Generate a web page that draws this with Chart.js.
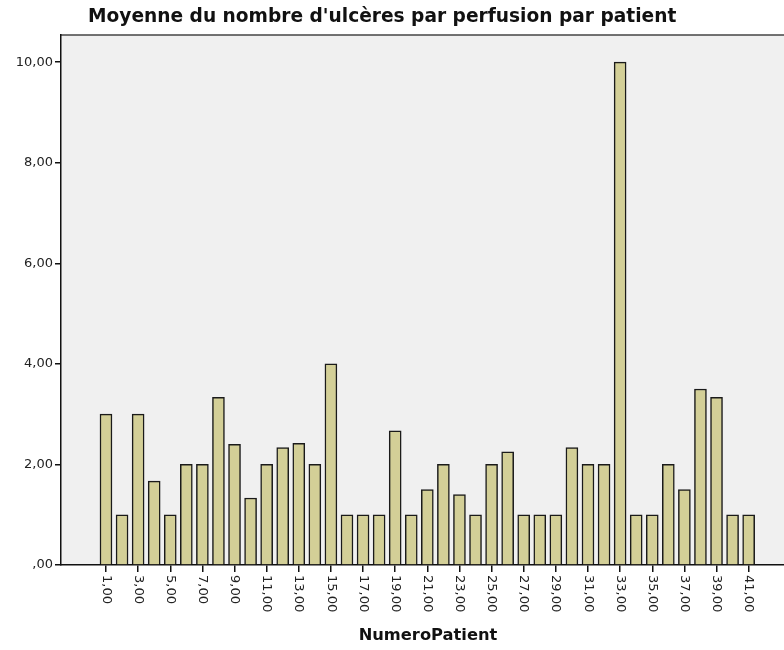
<!DOCTYPE html>
<html>
<head>
<meta charset="utf-8">
<script src="https://cdn.jsdelivr.net/npm/chart.js@4/dist/chart.umd.min.js"></script>
<style>
html,body{margin:0;padding:0;background:#ffffff;overflow:hidden;}
canvas{display:block;}
</style>
</head>
<body>
<canvas id="c" width="784" height="650"></canvas>
<script>
const chartTitle = "Moyenne du nombre d'ulcères par perfusion par patient";
const xAxisTitle = "NumeroPatient";
const patients = [1,2,3,4,5,6,7,8,9,10,11,12,13,14,15,16,17,18,19,20,21,22,23,24,25,26,27,28,29,30,31,32,33,34,35,36,37,38,39,40,41];
const meanUlcers = [3,1,3,1.667,1,2,2,3.333,2.4,1.333,2,2.333,2.42,2,4,1,1,1,2.667,1,1.5,2,1.4,1,2,2.25,1,1,1,2.333,2,2,10,1,1,2,1.5,3.5,3.333,1,1];
const xTickValues = [1,3,5,7,9,11,13,15,17,19,21,23,25,27,29,31,33,35,37,39,41];
const yTickValues = [0,2,4,6,8,10];

const fmt = v => v === 0 ? ',00' : v.toFixed(2).replace('.', ',');
const FONT = '"DejaVu Sans", sans-serif';

const decor = {
  id: 'decor',
  beforeDraw(chart) {
    const {ctx, chartArea: a} = chart;
    ctx.save();
    ctx.fillStyle = '#f0f0f0';
    ctx.fillRect(a.left, a.top, a.right - a.left, a.bottom - a.top);
    ctx.strokeStyle = '#444';
    ctx.lineWidth = 1.5;
    ctx.beginPath();
    ctx.moveTo(a.left, a.top);
    ctx.lineTo(a.right, a.top);
    ctx.stroke();
    ctx.restore();
  },
  afterDraw(chart) {
    const {ctx, chartArea: a, scales} = chart;
    ctx.save();
    ctx.fillStyle = '#111';
    ctx.font = 'bold 18.6px ' + FONT;
    ctx.textAlign = 'left';
    ctx.textBaseline = 'middle';
    ctx.fillText(chartTitle, 88, 17);
    ctx.font = '13px ' + FONT;
    ctx.fillStyle = '#222';
    xTickValues.forEach(v => {
      const x = scales.x.getPixelForValue(v);
      ctx.save();
      ctx.translate(x, a.bottom + 10);
      ctx.rotate(Math.PI / 2);
      ctx.textAlign = 'left';
      ctx.textBaseline = 'middle';
      ctx.fillText(fmt(v), 0, 0);
      ctx.restore();
    });
    ctx.font = 'bold 16.3px ' + FONT;
    ctx.fillStyle = '#111';
    ctx.textAlign = 'center';
    ctx.textBaseline = 'middle';
    ctx.fillText(xAxisTitle, 428, 636);
    ctx.restore();
  }
};

new Chart(document.getElementById('c'), {
  type: 'bar',
  data: {
    datasets: [{
      data: patients.map((p, i) => ({x: p, y: meanUlcers[i]})),
      backgroundColor: '#d3cf97',
      borderColor: '#1a1a1a',
      borderWidth: 1.5,
      barThickness: 12
    }]
  },
  options: {
    responsive: false,
    animation: false,
    layout: {padding: {top: 35, right: 0, left: 0, bottom: 0}},
    plugins: {legend: {display: false}, title: {display: false}, tooltip: {enabled: false}},
    scales: {
      x: {
        type: 'linear',
        min: -1.8,
        max: 43.2,
        offset: false,
        afterBuildTicks: s => { s.ticks = xTickValues.map(v => ({value: v})); },
        afterFit: s => { s.height = 85; },
        ticks: {display: false},
        grid: {display: true, offset: false, drawOnChartArea: false, drawTicks: true, tickLength: 7, color: '#111', lineWidth: 1.5},
        border: {display: true, color: '#111', width: 1.5}
      },
      y: {
        min: 0,
        max: 10.54,
        afterBuildTicks: s => { s.ticks = yTickValues.map(v => ({value: v})); },
        afterFit: s => { s.width = 61; },
        ticks: {
          callback: v => fmt(v),
          font: {family: FONT, size: 13},
          color: '#222',
          padding: 2
        },
        grid: {display: true, offset: false, drawOnChartArea: false, drawTicks: true, tickLength: 6, color: '#111', lineWidth: 1.5},
        border: {display: true, color: '#111', width: 1.5}
      }
    }
  },
  plugins: [decor]
});
</script>
</body>
</html>
